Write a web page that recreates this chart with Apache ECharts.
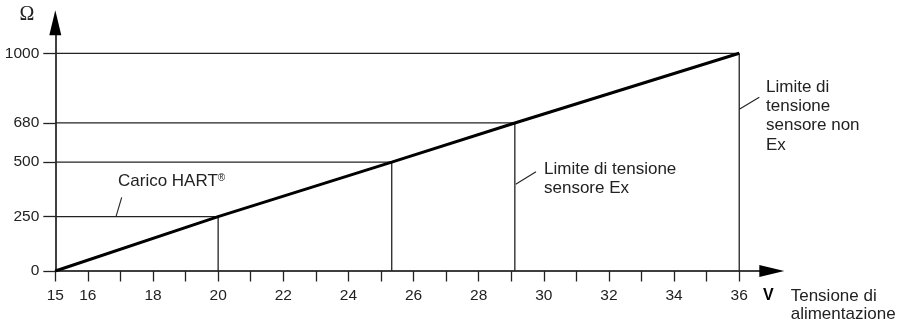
<!DOCTYPE html>
<html>
<head>
<meta charset="utf-8">
<script src="https://cdn.jsdelivr.net/npm/echarts@6/dist/echarts.min.js"></script>
<style>
html,body{margin:0;padding:0;background:#fff;}
#c{width:904px;height:326px;}
</style>
</head>
<body>
<div id="c"></div>
<script>
// Data
const keyVoltages = [20, 25.33, 29.11, 36];       // V
const keyLoads = [250, 500, 680, 1000];            // Ohm
const startVoltage = 15;
const startLoad = 0;
const yTickValues = [0, 250, 500, 680, 1000];
const xTickValues = [15,16,17,18,19,20,21,22,23,24,25,26,27,28,29,30,31,32,33,34,35,36];
const xLabelValues = [15,16,18,20,22,24,26,28,30,32,34,36];

const FONT = '"Liberation Sans", Arial, sans-serif';
const TXT = '#222';

const mainData = [[startVoltage, startLoad]].concat(keyVoltages.map((v, i) => [v, keyLoads[i]]));

const guideSeries = [];
keyVoltages.forEach((v, i) => {
  guideSeries.push({
    type: 'line', symbol: 'none', silent: true, z: 2,
    lineStyle: { color: '#222', width: 1.3 },
    data: [[startVoltage, keyLoads[i]], [v, keyLoads[i]]]
  });
  guideSeries.push({
    type: 'line', symbol: 'none', silent: true, z: 2,
    lineStyle: { color: '#222', width: 1.3 },
    data: [[v, 0], [v, keyLoads[i]]]
  });
});

const chart = echarts.init(document.getElementById('c'), null, { renderer: 'canvas' });
chart.setOption({
  animation: false,
  backgroundColor: '#fff',
  grid: { left: 55.3, right: 132.2, top: 22.8, bottom: 55, containLabel: false },
  xAxis: {
    type: 'value', min: 15, max: 37, interval: 1,
    axisLine: { show: true, onZero: false, lineStyle: { color: '#000', width: 1.5 },
      symbol: ['none', 'triangle'], symbolSize: [12, 25] },
    axisTick: { show: true, inside: false, length: 10.5, customValues: xTickValues, lineStyle: { color: '#222', width: 1.3 } },
    axisLabel: { show: true, customValues: xLabelValues, margin: 17, color: TXT,
      fontFamily: FONT, fontSize: 15.5, formatter: v => String(v) },
    splitLine: { show: false }
  },
  yAxis: {
    type: 'value', min: 0, max: 1140,
    axisLine: { show: true, onZero: false, lineStyle: { color: '#000', width: 1.5 },
      symbol: ['none', 'triangle'], symbolSize: [12, 25] },
    axisTick: { show: true, inside: false, length: 12, customValues: yTickValues, lineStyle: { color: '#222', width: 1.3 } },
    axisLabel: { show: true, customValues: yTickValues, margin: 16, color: TXT,
      fontFamily: FONT, fontSize: 15.5, formatter: v => String(v) },
    splitLine: { show: false }
  },
  series: guideSeries.concat([{
    type: 'line', symbol: 'none', silent: true, z: 5,
    lineStyle: { color: '#000', width: 3 },
    data: mainData
  }]),
  graphic: [
    { type: 'text', x: 27, y: 15, style: { text: 'Ω', font: '20px "Liberation Serif", serif', fill: TXT, textAlign: 'center', textVerticalAlign: 'middle' } },
    { type: 'text', x: 118, y: 181.5, style: {
        text: '{a|Carico HART}{s|®}', textVerticalAlign: 'middle', fill: TXT,
        rich: { a: { font: '17px ' + FONT, fill: TXT }, s: { font: '10px ' + FONT, fill: TXT, verticalAlign: 'top', padding: [0,0,6,0] } } } },
    { type: 'line', shape: { x1: 121.7, y1: 197.3, x2: 116, y2: 216.7 }, style: { stroke: '#222', lineWidth: 1.1 } },
    { type: 'text', x: 544, y: 159.5, style: { text: 'Limite di tensione\nsensore Ex', font: '17px ' + FONT, lineHeight: 19, fill: TXT, textVerticalAlign: 'top' } },
    { type: 'line', shape: { x1: 536, y1: 171.7, x2: 515.7, y2: 184.3 }, style: { stroke: '#222', lineWidth: 1.1 } },
    { type: 'text', x: 766, y: 77.3, style: { text: 'Limite di\ntensione\nsensore non\nEx', font: '17px ' + FONT, lineHeight: 19.4, fill: TXT, textVerticalAlign: 'top' } },
    { type: 'line', shape: { x1: 759.3, y1: 97.3, x2: 739.3, y2: 109.3 }, style: { stroke: '#222', lineWidth: 1.1 } },
    { type: 'text', x: 768.3, y: 296, style: { text: 'V', font: 'bold 16px ' + FONT, fill: '#000', textAlign: 'center', textVerticalAlign: 'middle' } },
    { type: 'text', x: 790.7, y: 287, style: { text: 'Tensione di\nalimentazione', font: '17px ' + FONT, lineHeight: 18.5, fill: TXT, textVerticalAlign: 'top' } }
  ]
});
</script>
</body>
</html>
